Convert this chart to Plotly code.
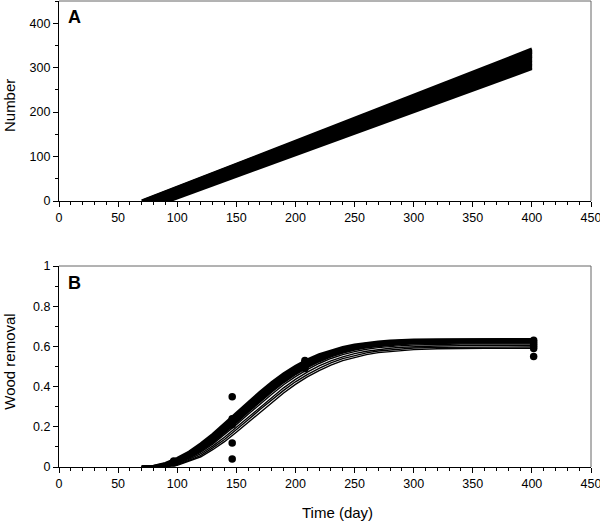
import plotly.graph_objects as go

# ---------------- Panel A data: simulated cumulative numbers (straight runs) ----------------
run_start_day = [70, 71, 72.5, 74, 75, 76.5, 78, 79.5, 81, 82.5, 84, 85.5, 87, 88.5, 90.5, 93]
run_end_day = [400] * 16
run_end_number = [342, 339, 336, 334, 331, 328, 325, 322, 319, 316, 313, 310, 307, 304, 301, 298]

# ---------------- Panel B data: fitted wood-removal curves ----------------
curve_days = [70, 80, 90, 100, 110, 120, 130, 140, 150, 160, 170, 180, 190, 200, 210,
              220, 230, 240, 250, 260, 270, 280, 290, 300, 320, 340, 360, 380, 400]

band_1 = [0, .004, .018, .043, .075, .116, .163, .215, .269, .322, .373, .421, .464, .502, .533,
          .559, .579, .595, .607, .616, .622, .627, .630, .632, .634, .635, .635, .635, .635]
band_2 = [0, .003, .016, .038, .067, .107, .153, .204, .257, .310, .362, .410, .454, .492, .524,
          .551, .573, .589, .603, .612, .618, .623, .627, .629, .631, .632, .632, .632, .632]
band_3 = [0, .001, .011, .033, .060, .098, .142, .192, .244, .298, .349, .399, .444, .482, .515,
          .543, .566, .583, .597, .606, .613, .618, .622, .624, .627, .628, .628, .628, .628]
band_4 = [0, .001, .008, .028, .053, .089, .132, .180, .232, .286, .337, .387, .432, .472, .506,
          .535, .558, .576, .590, .601, .608, .613, .618, .620, .623, .624, .624, .624, .624]
band_5 = [0, 0, .007, .025, .049, .083, .124, .172, .223, .276, .327, .377, .423, .463, .498,
          .527, .551, .570, .585, .596, .603, .609, .613, .616, .619, .620, .620, .620, .620]
thin_1 = [0, 0, .004, .020, .043, .074, .114, .160, .210, .262, .313, .362, .409, .450, .485,
          .515, .540, .559, .574, .586, .594, .600, .604, .607, .611, .612, .612, .612, .612]
thin_2 = [0, 0, .003, .016, .038, .066, .104, .148, .197, .248, .299, .348, .394, .436, .472,
          .503, .528, .548, .564, .576, .585, .591, .596, .599, .602, .604, .604, .604, .604]
thin_3 = [0, 0, .002, .012, .033, .058, .095, .137, .185, .235, .286, .335, .381, .424, .460,
          .491, .518, .539, .555, .568, .577, .583, .588, .592, .595, .596, .597, .597, .597]
thin_4 = [0, 0, .001, .008, .028, .051, .086, .126, .173, .222, .273, .321, .368, .411, .448,
          .480, .507, .529, .545, .559, .569, .575, .580, .584, .588, .590, .590, .590, .590]

band_curves = [band_1, band_2, band_3, band_4, band_5]
thin_curves = [thin_1, thin_2, thin_3, thin_4]

obs_day = [97, 97, 146.5, 146.5, 146.5, 146.5, 146.5, 208, 208, 208, 208,
           401.5, 401.5, 401.5, 401.5, 401.5, 401.5]
obs_removal = [0.03, 0.02, 0.35, 0.24, 0.21, 0.12, 0.04, 0.53, 0.52, 0.50, 0.49,
               0.63, 0.62, 0.61, 0.60, 0.59, 0.55]

x_ticks = [0, 50, 100, 150, 200, 250, 300, 350, 400, 450]

# ---------------- Figure ----------------
fig = go.Figure()

for s, e, n in zip(run_start_day, run_end_day, run_end_number):
    fig.add_trace(go.Scatter(x=[s, e], y=[0, n], mode="lines",
                             line=dict(color="black", width=3),
                             xaxis="x", yaxis="y", showlegend=False, hoverinfo="skip"))

for c in band_curves:
    fig.add_trace(go.Scatter(x=curve_days, y=c, mode="lines",
                             line=dict(color="black", width=2.8),
                             xaxis="x2", yaxis="y2", showlegend=False, hoverinfo="skip"))
for c in thin_curves:
    fig.add_trace(go.Scatter(x=curve_days, y=c, mode="lines",
                             line=dict(color="black", width=1.4),
                             xaxis="x2", yaxis="y2", showlegend=False, hoverinfo="skip"))

fig.add_trace(go.Scatter(x=obs_day, y=obs_removal, mode="markers",
                         marker=dict(color="black", size=7.5),
                         xaxis="x2", yaxis="y2", showlegend=False))

FONT = "Liberation Sans, Arial, Helvetica, sans-serif"

x_common = dict(range=[0, 450], tickmode="array", tickvals=x_ticks, automargin=False,
                ticklabeloverflow="allow",
                showline=True, linecolor="black", linewidth=1.3,
                ticks="outside", ticklen=5, tickwidth=1.2, tickcolor="black",
                minor=dict(dtick=10, tick0=0, ticks="outside", ticklen=3, tickwidth=1, tickcolor="black"),
                showgrid=False, zeroline=False, tickfont=dict(size=12.5, color="black", family=FONT))

y_common = dict(showline=True, linecolor="black", linewidth=1.3, automargin=False,
                ticklabeloverflow="allow",
                ticks="outside", ticklen=5, tickwidth=1.2, tickcolor="black",
                showgrid=False, zeroline=False, tickfont=dict(size=12.5, color="black", family=FONT))

fig.update_layout(
    width=600, height=522,
    margin=dict(l=59, r=9, t=1, b=55, autoexpand=False),
    paper_bgcolor="white", plot_bgcolor="white",
    font=dict(family=FONT, color="black"),
    xaxis=dict(domain=[0, 1], anchor="y", **x_common),
    yaxis=dict(domain=[0.5708, 1], anchor="x", range=[0, 450], tickmode="linear", tick0=0, dtick=100,
               minor=dict(dtick=50, tick0=0, ticks="outside", ticklen=3, tickwidth=1, tickcolor="black"),
               **y_common),
    xaxis2=dict(domain=[0, 1], anchor="y2", **x_common),
    yaxis2=dict(domain=[0, 0.4313], anchor="x2", range=[0, 1], tickmode="linear", tick0=0, dtick=0.2,
                minor=dict(dtick=0.1, tick0=0, ticks="outside", ticklen=3, tickwidth=1, tickcolor="black"),
                **y_common),
)

# thin top/right frame lines
for xr, yr in [("x domain", "y domain"), ("x2 domain", "y2 domain")]:
    fig.add_shape(type="line", xref=xr, yref=yr, x0=0, x1=1, y0=1, y1=1,
                  line=dict(color="#666666", width=1))
    fig.add_shape(type="line", xref=xr, yref=yr, x0=1, x1=1, y0=0, y1=1,
                  line=dict(color="#666666", width=1))

fig.add_annotation(text="<b>A</b>", x=0.013, y=0.9667, xanchor="left", yanchor="middle",
                   font=dict(size=18, family=FONT, color="black"), showarrow=False, xref="paper", yref="paper")
fig.add_annotation(text="<b>B</b>", x=0.013, y=0.3948, xanchor="left", yanchor="middle",
                   font=dict(size=18, family=FONT, color="black"), showarrow=False, xref="paper", yref="paper")
fig.add_annotation(text="Number", x=-0.092, y=0.7747, xanchor="center", yanchor="middle",
                   textangle=-90, font=dict(size=15, family=FONT, color="black"),
                   showarrow=False, xref="paper", yref="paper")
fig.add_annotation(text="Wood removal", x=-0.092, y=0.226, xanchor="center", yanchor="middle",
                   textangle=-90, font=dict(size=15, family=FONT, color="black"),
                   showarrow=False, xref="paper", yref="paper")
fig.add_annotation(text="Time (day)", x=0.5244, y=-0.0987, xanchor="center", yanchor="middle",
                   font=dict(size=15, family=FONT, color="black"),
                   showarrow=False, xref="paper", yref="paper")

fig.write_html("out.html", config={"displayModeBar": False},
               post_script="document.body.style.margin='0';")
